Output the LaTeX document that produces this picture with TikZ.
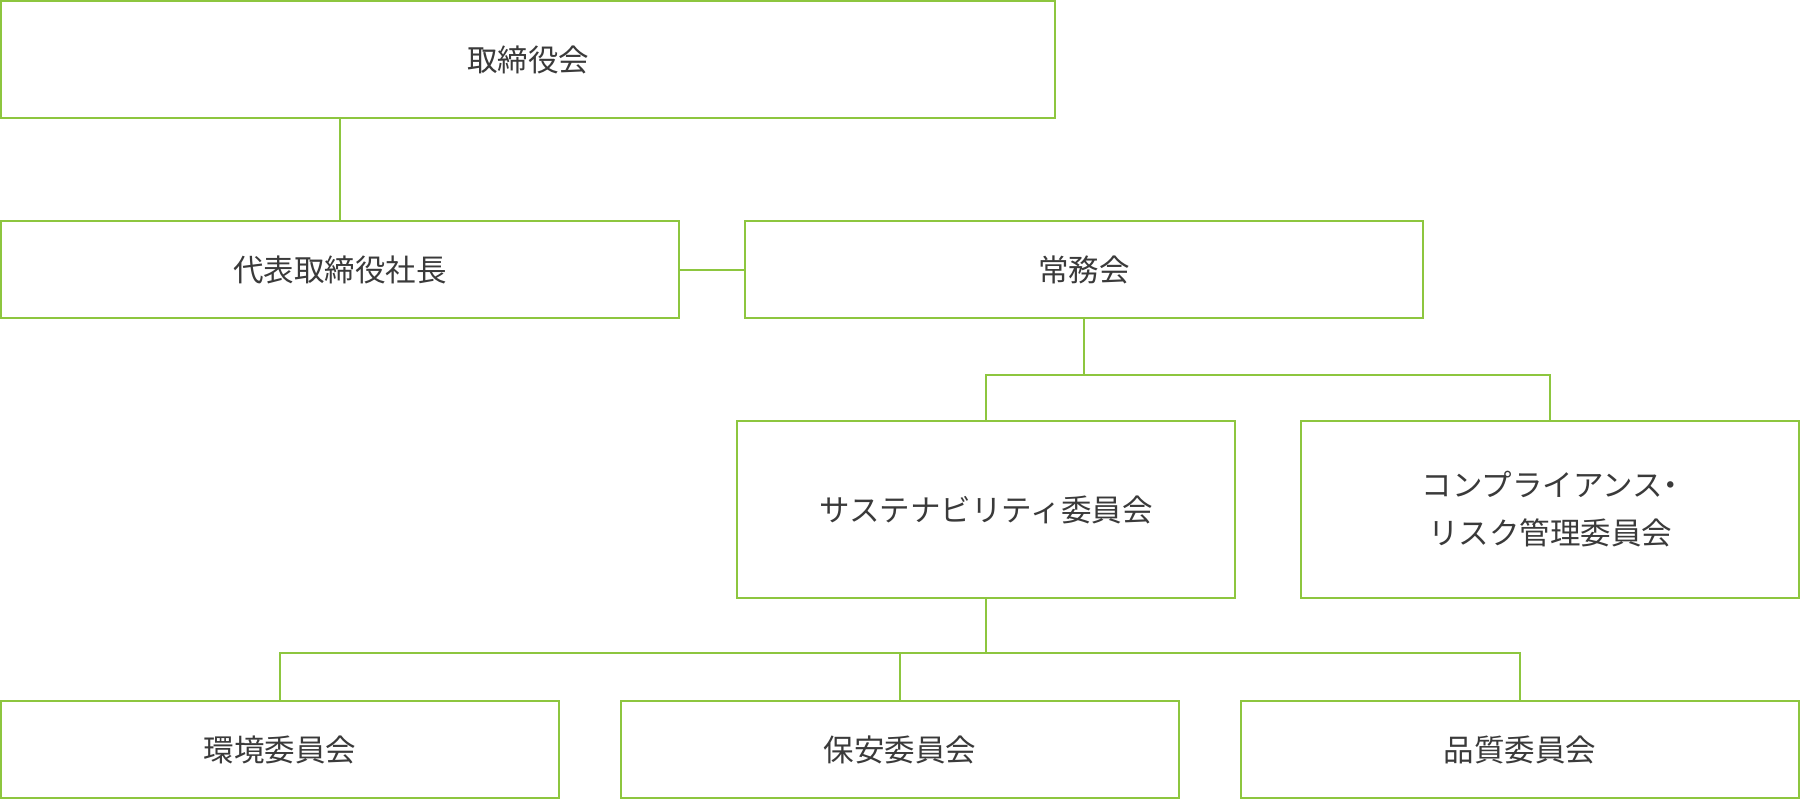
\documentclass[tikz,border=0pt]{standalone}
\usepackage{fontspec}
\setmainfont{Noto Sans CJK JP}
\definecolor{lg}{HTML}{8DC63F}
\definecolor{tx}{HTML}{3A3A3A}
\begin{document}
\begin{tikzpicture}[x=1pt,y=-1pt,
  box/.style={draw=lg, line width=2pt, fill=white, text=tx, outer sep=0pt, inner sep=0pt,
    font=\fontsize{30.5}{48}\selectfont, align=center},
  conn/.style={draw=lg, line width=2pt}]
\useasboundingbox (0,0) rectangle (1800,800);
\node[box, minimum width=1054pt, minimum height=117pt] (b1) at (528,59.5) {取締役会};
\node[box, minimum width=678pt, minimum height=97pt] (b2) at (340,269.5) {代表取締役社長};
\node[box, minimum width=678pt, minimum height=97pt] (b3) at (1084,269.5) {常務会};
\node[box, minimum width=498pt, minimum height=177pt] (sus) at (986,509.5) {サステナビリティ委員会};
\node[box, minimum width=498pt, minimum height=177pt] (comp) at (1550,509.5) {コンプライアンス\makebox[0.5em][c]{・}\\リスク管理委員会};
\node[box, minimum width=558pt, minimum height=97pt] (env) at (280,749.5) {環境委員会};
\node[box, minimum width=558pt, minimum height=97pt] (safe) at (900,749.5) {保安委員会};
\node[box, minimum width=558pt, minimum height=97pt] (qual) at (1520,749.5) {品質委員会};
\coordinate (j1) at (1084,375);
\coordinate (j2) at (986,653);
\draw[conn] (b2.north) -- (b2.north |- b1.south);
\draw[conn] (b2.east) -- (b3.west);
\draw[conn] (b3.south) -- (j1);
\draw[conn] (sus.north) |- (j1) -| (comp.north);
\draw[conn] (sus.south) -- (j2);
\draw[conn] (env.north) |- (j2) -| (qual.north);
\draw[conn] (safe.north) -- (safe.north |- j2);
\end{tikzpicture}
\end{document}
